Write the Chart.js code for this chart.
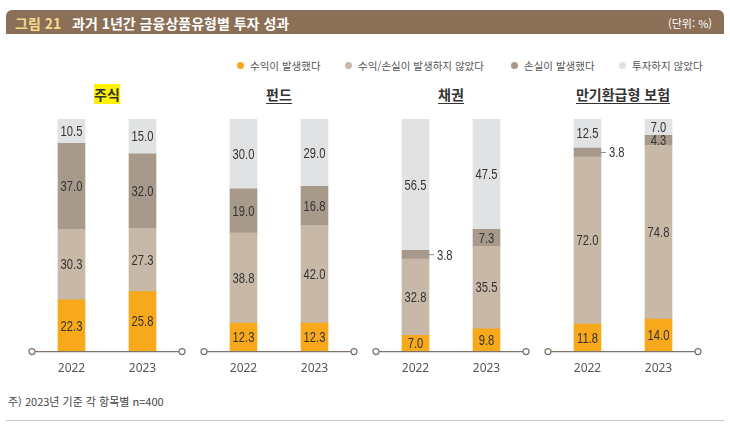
<!DOCTYPE html>
<html lang="ko">
<head>
<meta charset="UTF-8">
<title>과거 1년간 금융상품유형별 투자 성과</title>
<script src="https://cdn.jsdelivr.net/npm/chart.js@4.4.1/dist/chart.umd.min.js"></script>
<style>
  body { margin: 0; background: #fff; font-family: "Noto Sans CJK KR", "Noto Sans", sans-serif; }
  #wrap { position: relative; width: 730px; height: 429px; overflow: hidden; }
  #titlebar {
    position: absolute; left: 6px; top: 10px; width: 718px; height: 24px;
    background: #8b6f56; border-radius: 6px 6px 0 0; color: #fff;
  }
  #titlebar .fig { position: absolute; left: 9px; top: 3px; font-size: 14px; font-weight: 700; color: #f6db8c; }
  #titlebar .main { position: absolute; left: 66px; top: 3px; font-size: 14px; font-weight: 700; }
  #titlebar .unit { position: absolute; right: 12px; top: 5px; font-size: 11px; }
  .leg { position: absolute; top: 58px; font-size: 10.5px; color: #555; white-space: nowrap; }
  .leg i { display: inline-block; width: 7px; height: 7px; border-radius: 50%; margin-right: 6px; vertical-align: 1px; }
  .ptitle {
    position: absolute; top: 87px; transform: translateX(-50%); font-size: 14px; font-weight: 700;
    color: #333; border-bottom: 1.5px solid #333; line-height: 15px; padding-bottom: 1px; white-space: nowrap;
  }
  .ptitle.hl span { background: #fff200; }
  canvas.panel { position: absolute; top: 110px; }
  #note { position: absolute; left: 8px; top: 393px; font-size: 11px; color: #444; }
  #rule { position: absolute; left: 6px; top: 420px; width: 718px; height: 1px; background: #cfc6bc; }
</style>
</head>
<body>
<div id="wrap">
  <div id="titlebar">
    <span class="fig">그림 21</span>
    <span class="main">과거 1년간 금융상품유형별 투자 성과</span>
    <span class="unit">(단위: %)</span>
  </div>
  <div id="legend"></div>
  <div id="titles"></div>
  <div id="note">주) 2023년 기준 각 항목별 n=400</div>
  <div id="rule"></div>
</div>

<script>
// 데이터
const years = ['2022', '2023'];
const panels = ['주식', '펀드', '채권', '만기환급형 보험'];
const seriesNames = ['수익이 발생했다', '수익/손실이 발생하지 않았다', '손실이 발생했다', '투자하지 않았다'];
const seriesColors = ['#f7a81b', '#c8b8a8', '#a89a8b', '#e1e2e4'];

// 패널별 [2022, 2023] 값 (계열 순서대로)
const profit    = [[22.3, 25.8], [12.3, 12.3], [7.0, 9.8],   [11.8, 14.0]];
const noChange  = [[30.3, 27.3], [38.8, 42.0], [32.8, 35.5], [72.0, 74.8]];
const loss      = [[37.0, 32.0], [19.0, 16.8], [3.8, 7.3],   [3.8, 4.3]];
const notInvest = [[10.5, 15.0], [30.0, 29.0], [56.5, 47.5], [12.5, 7.0]];

const legendX = [237, 345, 511, 619];
const panelLeft = [32, 204, 376, 548];

// 범례
const legendEl = document.getElementById('legend');
seriesNames.forEach((name, i) => {
  const d = document.createElement('div');
  d.className = 'leg';
  d.style.left = legendX[i] + 'px';
  d.innerHTML = '<i style="background:' + seriesColors[i] + '"></i>' + name;
  legendEl.appendChild(d);
});

// 값 라벨 + 기준선
const labelPlugin = {
  id: 'labels',
  afterDatasetsDraw(chart) {
    const ctx = chart.ctx;
    ctx.save();
    ctx.font = '14px "Liberation Sans", Arial, sans-serif';
    ctx.fillStyle = '#333';
    ctx.textBaseline = 'middle';
    const sx = 0.8; // 좁은 글꼴 흉내
    chart.data.datasets.forEach((ds, i) => {
      chart.getDatasetMeta(i).data.forEach((bar, j) => {
        const v = ds.data[j];
        const cy = (bar.y + bar.base) / 2 + 1;
        const txt = v.toFixed(1);
        let tx, align;
        if (v < 4) {
          const x0 = bar.x + bar.width / 2;
          ctx.strokeStyle = '#888';
          ctx.lineWidth = 1;
          ctx.beginPath();
          ctx.moveTo(x0, cy - 1);
          ctx.lineTo(x0 + 5, cy - 1);
          ctx.stroke();
          tx = x0 + 8; align = 'left';
        } else {
          tx = bar.x; align = 'center';
        }
        ctx.save();
        ctx.translate(tx, cy);
        ctx.scale(sx, 1);
        ctx.textAlign = align;
        ctx.fillText(txt, 0, 0);
        ctx.restore();
      });
    });
    // 기준선과 양끝 원
    const a = chart.chartArea;
    const y = a.bottom;
    ctx.strokeStyle = '#7d736a';
    ctx.lineWidth = 1.2;
    ctx.beginPath();
    ctx.moveTo(a.left - 4, y);
    ctx.lineTo(a.right + 4, y);
    ctx.stroke();
    [a.left - 4, a.right + 4].forEach(x => {
      ctx.beginPath();
      ctx.arc(x, y, 3, 0, Math.PI * 2);
      ctx.fillStyle = '#fff';
      ctx.fill();
      ctx.stroke();
    });
    ctx.restore();
  }
};

const titlesEl = document.getElementById('titles');
const wrap = document.getElementById('wrap');

panels.forEach((name, k) => {
  const L = panelLeft[k];
  const t = document.createElement('div');
  t.className = 'ptitle' + (k === 0 ? ' hl' : '');
  t.style.left = (L + 75) + 'px';
  t.innerHTML = '<span>' + name + '</span>';
  titlesEl.appendChild(t);

  const c = document.createElement('canvas');
  c.className = 'panel';
  c.width = 170;
  c.height = 274;
  c.style.left = (L - 10) + 'px';
  c.style.width = '170px';
  c.style.height = '274px';
  wrap.appendChild(c);

  const sets = [profit, noChange, loss, notInvest];
  new Chart(c.getContext('2d'), {
    type: 'bar',
    data: {
      labels: years,
      datasets: sets.map((s, i) => ({
        label: seriesNames[i],
        data: s[k],
        backgroundColor: seriesColors[i],
        barThickness: 27,
        borderWidth: 0
      }))
    },
    options: {
      responsive: false,
      animation: false,
      layout: { padding: { left: 14, right: 14, top: 9, bottom: 6 } },
      plugins: { legend: { display: false }, tooltip: { enabled: false } },
      scales: {
        x: {
          stacked: true,
          grid: { display: false },
          border: { display: false },
          ticks: { padding: 2, color: '#555', font: { family: 'Noto Sans', size: 12 } }
        },
        y: { stacked: true, display: false, min: 0, max: 100.1 }
      }
    },
    plugins: [labelPlugin]
  });
});
</script>
</body>
</html>
